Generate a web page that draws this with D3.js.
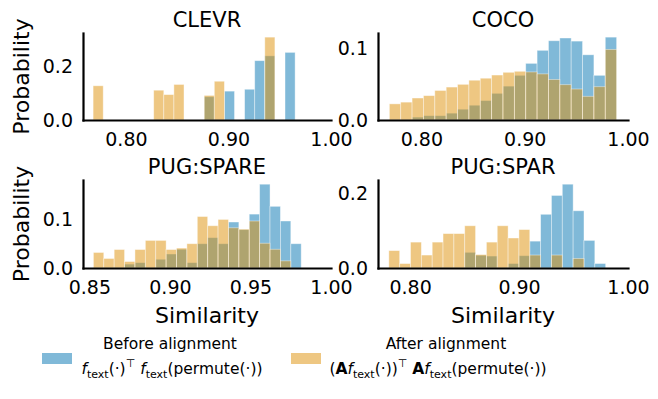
<!DOCTYPE html>
<html>
<head>
<meta charset="utf-8">
<script src="https://cdn.jsdelivr.net/npm/d3@7"></script>
<style>
  body { margin: 0; background: #fff; }
  text { font-family: "DejaVu Sans", sans-serif; fill: #000; }
</style>
</head>
<body>
<div id="chart"></div>
<script>
// panel titles, bin ranges (20 equal bins each) and tick values
const titles = ["CLEVR", "COCO", "PUG:SPARE", "PUG:SPAR"];
const binStart = [0.768, 0.769, 0.8525, 0.7805];
const binEnd = [0.965, 0.989, 0.9815, 0.9795];
const xTicks = [[0.80, 0.90, 1.00], [0.80, 0.90, 1.00], [0.85, 0.90, 0.95, 1.00], [0.80, 0.90, 1.00]];
const yTicks = [[0, 0.2], [0, 0.1], [0, 0.1], [0, 0.2]];

// probability per bin, before alignment (blue)
const clevrBefore = [0, 0, 0, 0, 0, 0, 0, 0, 0, 0, 0, 0.087, 0, 0.108, 0, 0.115, 0.222, 0.240, 0, 0.253];
const cocoBefore = [0, 0, 0.004, 0.006, 0.006, 0.0095, 0.015, 0.0205, 0.027, 0.037, 0.047, 0.062, 0.0786, 0.0967, 0.110, 0.1138, 0.1095, 0.0905, 0.062, 0.115];
const spareBefore = [0, 0, 0, 0.008, 0.011, 0, 0.018, 0.0288, 0.0386, 0.011, 0.05, 0.0625, 0.05, 0.0947, 0.079, 0.111, 0.1726, 0.127, 0.0968, 0.05];
const sparBefore = [0, 0, 0, 0, 0, 0, 0, 0.042, 0.034, 0.032, 0, 0.012, 0.033, 0.072, 0.144, 0.1945, 0.2247, 0.1534, 0.074, 0.012];

// probability per bin, after alignment (orange)
const clevrAfter = [0.128, 0, 0, 0, 0, 0, 0.1115, 0.095, 0.133, 0, 0, 0.092, 0.145, 0, 0, 0, 0, 0.310, 0, 0];
const cocoAfter = [0.0224, 0.0248, 0.0305, 0.0338, 0.041, 0.0457, 0.0495, 0.0552, 0.058, 0.0624, 0.0662, 0.0676, 0.0667, 0.064, 0.0562, 0.049, 0.043, 0.0329, 0.0462, 0.098];
const spareAfter = [0.032, 0.0196, 0.038, 0.0133, 0.038, 0.0568, 0.0568, 0.038, 0.041, 0.05, 0.106, 0.087, 0.1, 0.0828, 0.080, 0.0968, 0.051, 0.0386, 0.0147, 0];
const sparAfter = [0.0466, 0.0119, 0.0694, 0.0347, 0.0694, 0.0922, 0.0922, 0.1132, 0.036, 0.0694, 0.1132, 0.0804, 0.103, 0.0347, 0, 0.0347, 0, 0.0255, 0, 0];

const before = [clevrBefore, cocoBefore, spareBefore, sparBefore];
const after = [clevrAfter, cocoAfter, spareAfter, sparAfter];

const blue = "#0173b2";
const orange = "#de8f05";

const w = 658, h = 399;
const svg = d3.select("#chart").append("svg")
    .attr("width", w)
    .attr("height", h);

// axes boxes: [left, right, top, bottom]
const boxes = [
    [83, 331, 33, 120],
    [378, 628, 33, 120],
    [83, 331, 180, 268],
    [378, 628, 180, 268]
];

titles.forEach((title, p) => {
    const [left, right, top, bottom] = boxes[p];
    const s = binStart[p], e = binEnd[p];
    const n = before[p].length;
    const bw = (e - s) / n;

    const xScale = d3.scaleLinear()
        .domain([s - 0.05 * (e - s), 1.0])
        .range([left, right]);
    const maxV = d3.max(before[p].concat(after[p]));
    const yScale = d3.scaleLinear()
        .domain([0, maxV * 1.05])
        .range([bottom, top]);

    const g = svg.append("g");

    [[before[p], blue], [after[p], orange]].forEach(([vals, col]) => {
        g.append("g").selectAll("rect")
            .data(vals.map((v, i) => ({ x0: s + i * bw, x1: s + (i + 1) * bw, v: v })).filter(d => d.v > 0))
            .enter()
            .append("rect")
            .attr("x", d => xScale(d.x0))
            .attr("width", d => xScale(d.x1) - xScale(d.x0))
            .attr("y", d => yScale(d.v))
            .attr("height", d => yScale(0) - yScale(d.v))
            .attr("fill", col)
            .attr("fill-opacity", 0.5)
            .attr("stroke", "#fff")
            .attr("stroke-opacity", 0.5)
            .attr("stroke-width", 0.8);
    });

    const xAxis = d3.axisBottom(xScale)
        .tickValues(xTicks[p])
        .tickSize(0)
        .tickPadding(13)
        .tickFormat(d3.format(".2f"));
    const yAxis = d3.axisLeft(yScale)
        .tickValues(yTicks[p])
        .tickSize(0)
        .tickPadding(10)
        .tickFormat(d3.format(".1f"));

    const gx = g.append("g")
        .attr("transform", "translate(0," + bottom + ")")
        .call(xAxis);
    const gy = g.append("g")
        .attr("transform", "translate(" + left + ",0)")
        .call(yAxis);

    [gx, gy].forEach(ax => {
        ax.select(".domain").attr("stroke", "#000").attr("stroke-width", 2.2).attr("stroke-linecap", "square");
        ax.selectAll("text").style("font-size", "19px").attr("font-family", null);
    });

    g.append("text")
        .attr("x", (left + right) / 2)
        .attr("y", top - 6)
        .attr("text-anchor", "middle")
        .style("font-size", "21px")
        .text(title);

    if (p % 2 === 0) {
        svg.append("text")
            .attr("transform", "translate(29," + ((top + bottom) / 2) + ") rotate(-90)")
            .attr("text-anchor", "middle")
            .style("font-size", "22px")
            .text("Probability");
    }
    if (p >= 2) {
        svg.append("text")
            .attr("x", (left + right) / 2)
            .attr("y", 323)
            .attr("text-anchor", "middle")
            .style("font-size", "22px")
            .text("Similarity");
    }
});

// legend with math-like labels
function mathText(x, y, parts) {
    const t = svg.append("text")
        .attr("x", x)
        .attr("y", y)
        .attr("text-anchor", "middle")
        .style("font-size", "15.5px");
    let shift = 0;
    parts.forEach(([str, kind]) => {
        const ts = t.append("tspan").text(str);
        let target = 0;
        if (kind === "sub") target = 4;
        if (kind === "sup") target = -7;
        if (target !== shift) ts.attr("dy", target - shift);
        shift = target;
        if (kind === "sub" || kind === "sup") ts.style("font-size", "11px");
        if (kind === "i") ts.style("font-style", "italic");
        if (kind === "b") ts.style("font-weight", "bold");
    });
}

svg.append("rect").attr("x", 42).attr("y", 353).attr("width", 30).attr("height", 11)
    .attr("fill", blue).attr("fill-opacity", 0.5);
svg.append("text").attr("x", 170).attr("y", 349).attr("text-anchor", "middle")
    .style("font-size", "15.5px").text("Before alignment");
mathText(172, 374, [["f", "i"], ["text", "sub"], ["(·)", "n"], ["⊤", "sup"], [" ", "n"], ["f", "i"], ["text", "sub"], ["(permute(·))", "n"]]);

svg.append("rect").attr("x", 291).attr("y", 353).attr("width", 30).attr("height", 11)
    .attr("fill", orange).attr("fill-opacity", 0.5);
svg.append("text").attr("x", 446).attr("y", 349).attr("text-anchor", "middle")
    .style("font-size", "15.5px").text("After alignment");
mathText(438, 374, [["(", "n"], ["A", "b"], ["f", "i"], ["text", "sub"], ["(·))", "n"], ["⊤", "sup"], [" ", "n"], ["A", "b"], ["f", "i"], ["text", "sub"], ["(permute(·))", "n"]]);
</script>
</body>
</html>
